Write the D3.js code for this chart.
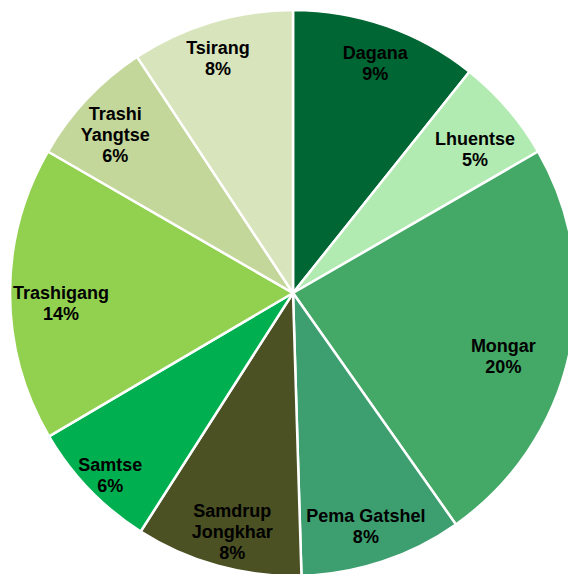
<!DOCTYPE html>
<html>
<head>
<meta charset="utf-8">
<script src="https://cdn.jsdelivr.net/npm/d3@7"></script>
<style>
  body { margin: 0; background: #fff; }
  svg { display: block; }
</style>
</head>
<body>
<div id="pie"></div>
<script>
// district shares (% of national total, the rest of the districts are not shown)
var districts = ["Dagana", "Lhuentse", "Mongar", "Pema Gatshel", "Samdrup Jongkhar",
  "Samtse", "Trashigang", "Trashi Yangtse", "Tsirang"];
var shares = [9.0, 5.0, 19.8, 7.8, 8.0, 6.3, 14.1, 6.2, 7.8];
// label lines as they are wrapped in the chart
var labelLines = [["Dagana"], ["Lhuentse"], ["Mongar"], ["Pema Gatshel"], ["Samdrup", "Jongkhar"],
  ["Samtse"], ["Trashigang"], ["Trashi", "Yangtse"], ["Tsirang"]];

var colors = ["#006633", "#b2ebb2", "#44a866", "#3d9e70", "#4b5123",
  "#00b050", "#92d050", "#c4d79b", "#d8e4bc"];

// small manual nudges so labels sit where the original put them
var labelNudge = [[3, -3], [0, 13], [-24, 11], [-3, 5], [3, 7],
  [-10, 15], [8, 9], [-3, 6], [-6, -5]];

var svgWidth = 568;
var svgHeight = 574;
var cx = 293, cy = 293;
var radius = 283;
var labelRadius = 240;
var lineHeight = 21;

var svg = d3.select("#pie")
  .append("svg")
  .attr("width", svgWidth)
  .attr("height", svgHeight);

var chartGroup = svg.append("g")
  .attr("transform", `translate(${cx}, ${cy})`);

var mydata = districts.map(function(d, i) {
  return { name: d, value: shares[i], lines: labelLines[i], color: colors[i], nudge: labelNudge[i] };
});

var pie = d3.pie()
  .value(d => d.value)
  .sort(null);

var arc = d3.arc()
  .innerRadius(0)
  .outerRadius(radius);

var labelArc = d3.arc()
  .innerRadius(labelRadius)
  .outerRadius(labelRadius);

var arcs = pie(mydata);

// slices
chartGroup.selectAll("path.slice")
  .data(arcs)
  .enter()
  .append("path")
  .classed("slice", true)
  .attr("d", arc)
  .attr("fill", d => d.data.color)
  .attr("stroke", "#ffffff")
  .attr("stroke-width", 2.5)
  .attr("stroke-linejoin", "round");

// labels: name lines + rounded percent
var labels = chartGroup.selectAll("text.slice-label")
  .data(arcs)
  .enter()
  .append("text")
  .classed("slice-label", true)
  .style("font-family", "'Liberation Sans', Arial, sans-serif")
  .style("font-size", "18px")
  .style("font-weight", "bold")
  .style("text-anchor", "middle")
  .attr("fill", "#000000")
  .attr("transform", function(d) {
    var c = labelArc.centroid(d);
    return `translate(${c[0] + d.data.nudge[0]}, ${c[1] + d.data.nudge[1]})`;
  });

labels.each(function(d) {
  var lines = d.data.lines.concat([Math.round(d.data.value) + "%"]);
  var n = lines.length;
  var t = d3.select(this);
  lines.forEach(function(line, i) {
    t.append("tspan")
      .attr("x", 0)
      .attr("y", -(n - 1) * lineHeight / 2 + i * lineHeight + 6.5)
      .text(line);
  });
});
</script>
</body>
</html>
